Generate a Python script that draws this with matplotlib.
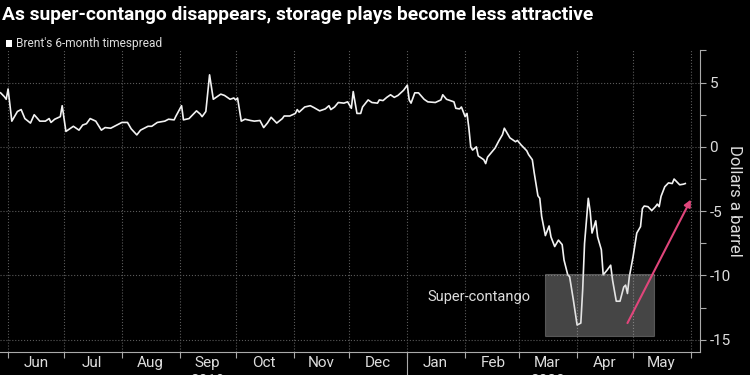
import matplotlib
matplotlib.use("Agg")
import matplotlib.pyplot as plt
import matplotlib.dates as mdates
from matplotlib.patches import Rectangle
import pandas as pd

# Brent 6-month timespread, $/bbl
dates = [
    "2019-05-28", "2019-05-30", "2019-05-31", "2019-06-01", "2019-06-03", "2019-06-06",
    "2019-06-08", "2019-06-10", "2019-06-13", "2019-06-15", "2019-06-18", "2019-06-21",
    "2019-06-23", "2019-06-24", "2019-06-26", "2019-06-29", "2019-06-30", "2019-07-02",
    "2019-07-04", "2019-07-06", "2019-07-09", "2019-07-11", "2019-07-13", "2019-07-15",
    "2019-07-18", "2019-07-21", "2019-07-23", "2019-07-26", "2019-07-28", "2019-08-01",
    "2019-08-04", "2019-08-06", "2019-08-09", "2019-08-11", "2019-08-13", "2019-08-15",
    "2019-08-17", "2019-08-20", "2019-08-24", "2019-08-26", "2019-08-29", "2019-08-30",
    "2019-09-02", "2019-09-03", "2019-09-06", "2019-09-10", "2019-09-12", "2019-09-13",
    "2019-09-15", "2019-09-17", "2019-09-19", "2019-09-21", "2019-09-23", "2019-09-25",
    "2019-09-28", "2019-09-30", "2019-10-01", "2019-10-02", "2019-10-04", "2019-10-06",
    "2019-10-09", "2019-10-11", "2019-10-14", "2019-10-16", "2019-10-18", "2019-10-20",
    "2019-10-23", "2019-10-26", "2019-10-27", "2019-10-30", "2019-11-02", "2019-11-03",
    "2019-11-04", "2019-11-07", "2019-11-10", "2019-11-12", "2019-11-15", "2019-11-18",
    "2019-11-20", "2019-11-21", "2019-11-23", "2019-11-25", "2019-11-28", "2019-11-30",
    "2019-12-02", "2019-12-03", "2019-12-05", "2019-12-07", "2019-12-08", "2019-12-11",
    "2019-12-13", "2019-12-16", "2019-12-17", "2019-12-19", "2019-12-21", "2019-12-23",
    "2019-12-25", "2019-12-27", "2019-12-30", "2020-01-01", "2020-01-02", "2020-01-03",
    "2020-01-05", "2020-01-07", "2020-01-10", "2020-01-12", "2020-01-16", "2020-01-19",
    "2020-01-20", "2020-01-22", "2020-01-26", "2020-01-27", "2020-01-29", "2020-01-30",
    "2020-02-01", "2020-02-02", "2020-02-03", "2020-02-04", "2020-02-05", "2020-02-07",
    "2020-02-08", "2020-02-11", "2020-02-12", "2020-02-13", "2020-02-15", "2020-02-17",
    "2020-02-19", "2020-02-21", "2020-02-22", "2020-02-25", "2020-02-26", "2020-02-28",
    "2020-02-29", "2020-03-02", "2020-03-03", "2020-03-05", "2020-03-06", "2020-03-08",
    "2020-03-09", "2020-03-11", "2020-03-12", "2020-03-13", "2020-03-15", "2020-03-17",
    "2020-03-18", "2020-03-20", "2020-03-22", "2020-03-24", "2020-03-25", "2020-03-27",
    "2020-03-28", "2020-03-30", "2020-04-01", "2020-04-03", "2020-04-04", "2020-04-05",
    "2020-04-07", "2020-04-08", "2020-04-09", "2020-04-11", "2020-04-12", "2020-04-14",
    "2020-04-15", "2020-04-17", "2020-04-19", "2020-04-20", "2020-04-22", "2020-04-24",
    "2020-04-26", "2020-04-27", "2020-04-28", "2020-04-29", "2020-05-01", "2020-05-03",
    "2020-05-05", "2020-05-06", "2020-05-07", "2020-05-09", "2020-05-11", "2020-05-13",
    "2020-05-14", "2020-05-15", "2020-05-16", "2020-05-18", "2020-05-20", "2020-05-22",
    "2020-05-23", "2020-05-25", "2020-05-26", "2020-05-28", "2020-05-29",
]
spread = [
    4.2, 3.9, 3.7, 4.5, 2.0, 2.75,
    2.9, 2.2, 1.85, 2.5, 2.0, 2.0,
    2.2, 1.9, 2.15, 2.35, 3.2, 1.2,
    1.4, 1.6, 1.3, 1.7, 1.8, 2.2,
    2.0, 1.3, 1.5, 1.45, 1.6, 1.9,
    1.9, 1.4, 0.93, 1.3, 1.45, 1.6,
    1.6, 1.9, 2.0, 2.15, 2.1, 2.4,
    3.2, 2.1, 2.2, 2.8, 2.55, 2.35,
    2.75, 5.6, 3.7, 3.9, 4.1, 4.0,
    3.7, 3.8, 3.65, 3.8, 2.0, 2.15,
    2.05, 2.0, 2.05, 1.5, 1.85, 2.3,
    1.85, 2.2, 2.4, 2.4, 2.6, 2.9,
    2.7, 3.1, 3.2, 3.05, 2.8, 2.95,
    3.2, 2.9, 3.1, 3.45, 3.4, 3.5,
    3.0, 4.3, 2.6, 2.6, 3.1, 3.65,
    3.45, 3.4, 3.65, 3.6, 3.85, 4.05,
    3.85, 4.0, 4.4, 4.8, 3.65, 3.4,
    4.2, 4.2, 3.7, 3.5, 3.45, 3.65,
    4.05, 3.7, 3.5, 3.0, 2.95, 3.1,
    2.35, 2.6, 1.45, 0.0, -0.25, 0.0,
    -0.7, -1.0, -1.3, -0.8, -0.45, -0.1,
    0.45, 0.95, 1.45, 0.7, 0.6, 0.4,
    0.5, 0.15, 0.0, -0.3, -0.6, -1.0,
    -2.0, -3.8, -4.0, -5.4, -6.9, -6.15,
    -7.0, -7.75, -7.25, -7.6, -8.8, -9.95,
    -10.1, -11.9, -13.85, -13.7, -11.1, -7.5,
    -4.0, -5.0, -6.7, -5.75, -7.0, -8.0,
    -9.95, -9.6, -9.2, -10.35, -12.0, -12.0,
    -10.9, -10.75, -11.4, -10.1, -8.55, -6.7,
    -6.2, -4.8, -4.6, -4.65, -4.95, -4.65,
    -4.45, -4.65, -3.85, -3.1, -2.8, -2.85,
    -2.5, -2.8, -2.95, -2.9, -2.85,
]

month_labels = ["Jun", "Jul", "Aug", "Sep", "Oct", "Nov", "Dec",
                "Jan", "Feb", "Mar", "Apr", "May"]
year_labels = {"2019": "2019-09-16", "2020": "2020-03-16"}

# super-contango box and arrow
box_start, box_end = "2020-03-15", "2020-05-12"
box_low, box_high = -14.7, -9.9
arrow_from = ("2020-04-28", -13.7)
arrow_to = ("2020-06-01", -4.1)

plt.rcParams["font.family"] = ["Roboto", "DejaVu Sans"]
plt.rcParams["axes.unicode_minus"] = False

x = pd.to_datetime(dates)

fig = plt.figure(figsize=(7.5, 3.75), dpi=100, facecolor="black")
ax = fig.add_axes([0.0, 0.0613, 0.933, 0.806], facecolor="black")

ax.plot(x, spread, color="#f2f2f2", lw=1.2, zorder=3)

bx0 = mdates.date2num(pd.Timestamp(box_start))
bx1 = mdates.date2num(pd.Timestamp(box_end))
ax.add_patch(Rectangle((bx0, box_low), bx1 - bx0, box_high - box_low,
                       facecolor="#c8c8c8", alpha=0.35, edgecolor="#bbbbbb",
                       lw=0.8, zorder=4))
ax.text(pd.Timestamp("2020-01-12"), -11.7, "Super-contango", color="#dddddd",
        fontsize=10.5, va="center", ha="left", zorder=5)
ax.annotate("", xy=(pd.Timestamp(arrow_to[0]), arrow_to[1]),
            xytext=(pd.Timestamp(arrow_from[0]), arrow_from[1]),
            arrowprops=dict(arrowstyle="-|>", color="#e0457b", lw=1.5,
                            mutation_scale=10, shrinkA=0, shrinkB=0), zorder=6)

ax.set_xlim(pd.Timestamp("2019-05-27 16:00"), pd.Timestamp("2020-06-05 18:00"))
ax.set_ylim(-15.95, 7.55)

# month ticks at month starts, labels mid-month
month_starts = pd.date_range("2019-06-01", "2020-06-01", freq="MS")
ax.set_xticks(month_starts)
ax.set_xticklabels([])
mids = [m + pd.Timedelta(days=15) for m in month_starts[:-1]]
ax.set_xticks(mids, minor=True)
ax.set_xticklabels(month_labels, minor=True)
ax.tick_params(axis="x", which="major", length=4, color="#aaaaaa", width=0.8)
ax.tick_params(axis="x", which="minor", length=0, pad=3, labelcolor="#dddddd",
               labelsize=11)

for lab, d in year_labels.items():
    ax.text(pd.Timestamp(d), -0.072, lab, transform=ax.get_xaxis_transform(),
            ha="center", va="top", color="#dddddd", fontsize=11, clip_on=False)
# year divider below January
ax.plot([pd.Timestamp("2020-01-01")] * 2, [0, -0.08],
        transform=ax.get_xaxis_transform(), color="#aaaaaa", lw=0.8, clip_on=False)

ax.yaxis.tick_right()
ax.yaxis.set_label_position("right")
ax.set_yticks([5, 0, -5, -10, -15])
ax.set_yticks([7.5, 2.5, -2.5, -7.5, -12.5], minor=True)
ax.tick_params(axis="y", which="both", length=4, color="#aaaaaa", width=0.8,
               labelcolor="#dddddd", labelsize=11, pad=3)
ax.set_ylabel("Dollars a barrel", color="#dddddd", fontsize=12, rotation=270,
              labelpad=8)

ax.grid(True, which="major", color="#5a5a5a", ls=":", lw=0.8)
for side in ["left", "top"]:
    ax.spines[side].set_visible(False)
for side in ["right", "bottom"]:
    ax.spines[side].set_color("#aaaaaa")
    ax.spines[side].set_linewidth(0.8)

fig.text(0.002, 0.96, "As super-contango disappears, storage plays become less attractive",
         color="white", fontsize=13.9, fontweight="bold", va="center", ha="left")
fig.patches.append(Rectangle((0.008, 0.876), 0.0085, 0.017, transform=fig.transFigure,
                             facecolor="white", edgecolor="none"))
fig.text(0.021, 0.885, "Brent's 6-month timespread", color="#dddddd", fontsize=8.6,
         va="center", ha="left")

fig.savefig("out.png", dpi=100, facecolor="black")
